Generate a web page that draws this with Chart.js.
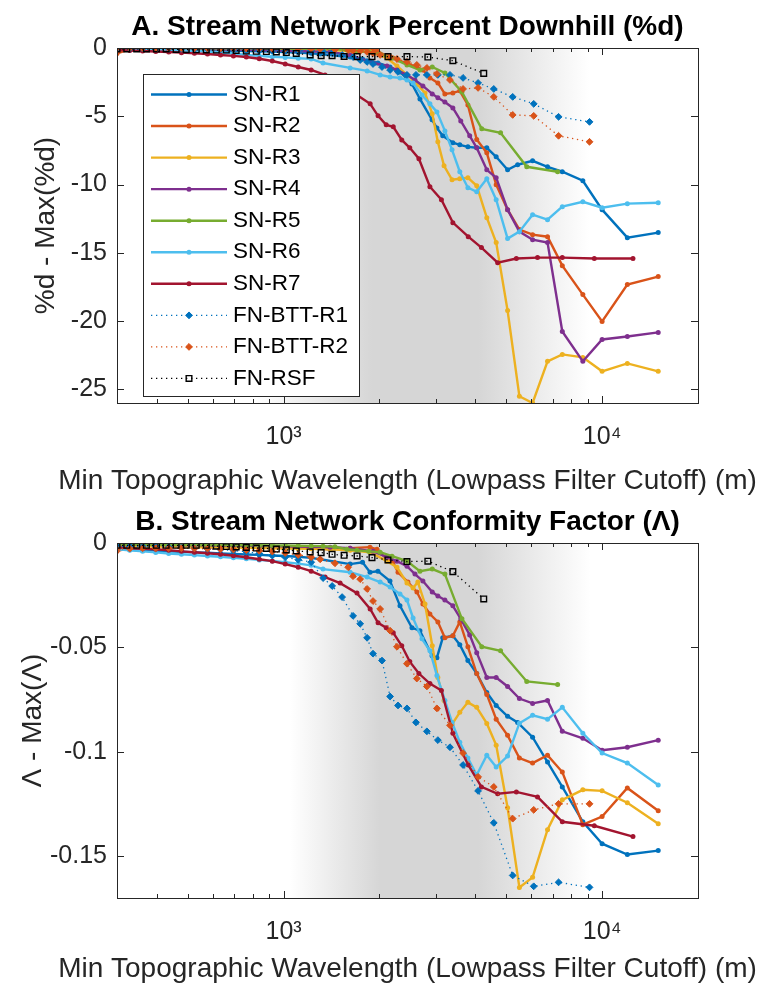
<!DOCTYPE html>
<html lang="en">
<head>
<meta charset="UTF-8">
<title>Stream Network Percent Downhill / Conformity Factor</title>
<script src="https://cdn.jsdelivr.net/npm/chart.js"></script>
<style>
  body { margin: 0; background: #fff; overflow: hidden; }
  canvas { position: absolute; left: 0; }
  #chartA { top: 0; }
  #chartB { top: 490px; }
</style>
</head>
<body>
<canvas id="chartA" width="761" height="500"></canvas>
<canvas id="chartB" width="761" height="495"></canvas>
<script>
// low-end wavelengths shared by the SN runs and the BTT runs (m)
const wlLow = [300, 329, 361, 397, 436, 478, 525, 577, 634, 696, 764, 839, 922, 1012, 1112, 1221];

// SN-R1
const r1Wl = [1303, 1618, 1770, 1868, 1978, 2158, 2320, 2530, 2680, 2925, 3030, 3160, 3400, 3575, 3790, 4040, 4345, 4650, 5050, 5430, 6050, 6740, 7500, 8700, 10000, 12000, 15000];
const r1A = [-0.15, -0.15, -0.15, -0.15, -0.15, -0.16, -0.17, -0.18, -0.19, -0.2, -0.22, -0.24, -0.26, -0.29, -0.33, -0.38,
  -0.44, -0.66, -0.8, -0.95, -1.1, -1.39, -1.75, -2.63, -3.73, -5.26, -5.85, -6.43, -6.94, -7.09, -7.24, -7.31, -7.31, -7.97, -8.92, -8.55, -8.26, -8.7, -9.06, -9.72, -11.84, -13.89, -13.52];
const r1B = [-0.003, -0.0032, -0.0035, -0.0037, -0.004, -0.0042, -0.0045, -0.0047, -0.005, -0.0052, -0.0055, -0.0057, -0.006, -0.0062, -0.0066, -0.0071,
  -0.0078, -0.0101, -0.0092, -0.014, -0.0135, -0.0182, -0.0301, -0.0406, -0.042, -0.054, -0.0549, -0.0454, -0.0444, -0.0487, -0.0563, -0.0625, -0.0716, -0.0778, -0.083, -0.0859, -0.093, -0.1049, -0.1168, -0.1335, -0.144, -0.1492, -0.1473];

// SN-R2
const r2Wl = [1400, 1618, 1868, 1965, 2110, 2206, 2287, 2457, 2622, 2738, 2880, 3051, 3209, 3400, 3575, 3790, 4040, 4345, 4650, 5050, 5500, 6050, 6740, 7500, 8700, 10000, 12000, 15000];
const r2A = [-0.4, -0.1, -0.03, -0.02, -0.02, -0.02, -0.02, -0.02, -0.02, -0.01, -0.01, -0.01, 0, 0, 0, -0.02,
  -0.04, -0.04, -0.07, -0.22, -0.58, -0.73, -0.88, -1.17, -1.39, -1.61, -2.19, -2.56, -3.36, -3.29, -3.14, -4.17, -6.7, -7.68, -10.01, -11.84, -13.3, -13.67, -13.82, -15.94, -18.06, -20.03, -17.32, -16.74];
const r2B = [-0.004, -0.002, -0.0012, -0.001, -0.001, -0.001, -0.001, -0.001, -0.0012, -0.0014, -0.0015, -0.0016, -0.0018, -0.002, -0.0022, -0.0025,
  -0.003, -0.0025, -0.002, -0.003, -0.0078, -0.0092, -0.014, -0.0187, -0.0235, -0.0292, -0.034, -0.0378, -0.0454, -0.0444, -0.0378, -0.0497, -0.0625, -0.0725, -0.0844, -0.0921, -0.103, -0.1054, -0.1016, -0.1097, -0.1349, -0.131, -0.1173, -0.1282];

// SN-R3
const r3Wl = [1400, 1618, 1868, 2112, 2270, 2440, 2550, 2640, 2780, 2930, 3050, 3190, 3380, 3575, 3790, 4040, 4345, 4650, 5050, 5500, 6050, 6740, 7500, 8700, 10000, 12000, 15000];
const r3A = [-0.05, -0.05, -0.05, -0.05, -0.05, -0.05, -0.06, -0.06, -0.07, -0.07, -0.08, -0.09, -0.1, -0.11, -0.12, -0.13,
  -0.15, -0.22, -0.29, -0.73, -1.32, -1.97, -2.34, -2.7, -3.29, -4.82, -6.87, -8.63, -9.65, -9.58, -9.5, -10.09, -12.43, -14.25, -19.23, -25.51, -26.0, -22.95, -22.44, -22.66, -23.68, -23.1, -23.68];
const r3B = [-0.0015, -0.0015, -0.0016, -0.0017, -0.0018, -0.0019, -0.002, -0.002, -0.0021, -0.0022, -0.0023, -0.0024, -0.0025, -0.0026, -0.0027, -0.0028,
  -0.003, -0.0035, -0.0044, -0.0087, -0.0116, -0.0192, -0.0216, -0.0187, -0.0292, -0.0492, -0.0644, -0.0754, -0.0868, -0.0811, -0.0763, -0.0787, -0.0864, -0.0968, -0.1268, -0.165, -0.1601, -0.1373, -0.123, -0.1182, -0.1187, -0.1244, -0.1344];

// SN-R4
const r4Wl = [1400, 1618, 1910, 2112, 2270, 2440, 2585, 2738, 2930, 3051, 3209, 3400, 3600, 3840, 4040, 4345, 4650, 5050, 5500, 6050, 6740, 7500, 8700, 10000, 12000, 15000];
const r4A = [-0.05, -0.05, -0.05, -0.06, -0.07, -0.08, -0.08, -0.1, -0.1, -0.12, -0.13, -0.15, -0.17, -0.2, -0.22, -0.25,
  -0.29, -0.51, -1.1, -1.32, -1.61, -1.97, -2.34, -2.78, -3.36, -3.65, -3.95, -4.39, -5.34, -6.43, -7.31, -8.92, -9.5, -11.84, -13.45, -14.04, -14.25, -20.76, -22.95, -21.35, -21.13, -20.83];
const r4B = [-0.0008, -0.0008, -0.0009, -0.0009, -0.001, -0.001, -0.0011, -0.0011, -0.0012, -0.0012, -0.0013, -0.0014, -0.0015, -0.0016, -0.0017, -0.0018,
  -0.002, -0.0025, -0.004, -0.0068, -0.0087, -0.0111, -0.0149, -0.0182, -0.0235, -0.0254, -0.0273, -0.0301, -0.0363, -0.044, -0.0525, -0.0644, -0.0644, -0.0687, -0.0745, -0.0768, -0.0754, -0.0902, -0.0935, -0.0992, -0.0978, -0.0944];

// SN-R5
const r5Wl = [1330, 1450, 1580, 1700, 1850, 2010, 2190, 2440, 2680, 2930, 3210, 3630, 4190, 4800, 5800, 7250];
const r5A = [-0.02, -0.02, -0.02, -0.02, -0.02, -0.02, -0.02, -0.02, -0.03, -0.03, -0.03, -0.03, -0.04, -0.04, -0.04, -0.05,
  -0.06, -0.08, -0.15, -0.22, -0.3, -0.44, -0.73, -1.24, -1.61, -1.39, -1.83, -3.22, -5.92, -6.21, -8.7, -9.06];
const r5B = [-0.0008, -0.0008, -0.0008, -0.0009, -0.0009, -0.0009, -0.001, -0.001, -0.001, -0.001, -0.0011, -0.0011, -0.0012, -0.0012, -0.0013, -0.0014,
  -0.0015, -0.0018, -0.003, -0.0035, -0.004, -0.0044, -0.0063, -0.0087, -0.0135, -0.0125, -0.0149, -0.0363, -0.0497, -0.0516, -0.0663, -0.0678];

// SN-R6
const r6Wl = [1330, 1618, 1830, 2010, 2160, 2320, 2440, 2550, 2720, 2880, 3030, 3210, 3380, 3575, 3790, 4040, 4345, 4650, 5050, 5500, 6050, 6740, 7500, 8700, 10000, 12000, 15000];
const r6A = [-0.07, -0.1, -0.12, -0.15, -0.17, -0.19, -0.22, -0.26, -0.33, -0.4, -0.51, -0.58, -0.64, -0.69, -0.75, -0.8,
  -1.1, -1.46, -1.68, -1.97, -2.12, -2.19, -2.34, -2.56, -3.44, -4.09, -4.68, -6.07, -7.46, -9.06, -10.23, -10.53, -9.58, -11.11, -13.96, -13.45, -12.21, -12.57, -11.62, -11.26, -11.7, -11.4, -11.33];
const r6B = [-0.003, -0.0035, -0.004, -0.0045, -0.005, -0.0054, -0.0058, -0.0062, -0.0066, -0.0071, -0.0076, -0.0081, -0.0086, -0.0092, -0.0099, -0.0107,
  -0.0125, -0.014, -0.0163, -0.0187, -0.0211, -0.0244, -0.0273, -0.0359, -0.0459, -0.0516, -0.0635, -0.0754, -0.0859, -0.0954, -0.103, -0.1111, -0.1016, -0.1073, -0.102, -0.0863, -0.0825, -0.0844, -0.0787, -0.0911, -0.1006, -0.1054, -0.1159];

// SN-R7
const r7Wl = [1350, 1505, 1700, 1870, 1980, 2100, 2210, 2350, 2490, 2660, 2880, 3130, 3400, 3800, 4180, 4700, 5380, 6270, 7500, 9450, 12500];
const r7A = [-0.15, -0.18, -0.22, -0.26, -0.29, -0.34, -0.39, -0.44, -0.51, -0.58, -0.66, -0.79, -0.95, -1.17, -1.39, -1.61,
  -1.97, -2.49, -3.44, -4.09, -4.97, -5.63, -5.77, -6.73, -7.31, -8.11, -10.16, -11.11, -12.79, -13.82, -14.62, -15.72, -15.42, -15.35, -15.35, -15.42, -15.42];
const r7B = [-0.002, -0.0025, -0.0028, -0.003, -0.0035, -0.004, -0.0044, -0.0049, -0.0054, -0.0061, -0.0068, -0.0078, -0.0087, -0.0101, -0.0116, -0.0135,
  -0.0163, -0.0192, -0.024, -0.0316, -0.0382, -0.0406, -0.043, -0.0492, -0.0568, -0.0625, -0.0673, -0.0706, -0.0911, -0.1063, -0.1168, -0.1201, -0.1192, -0.1216, -0.1335, -0.1354, -0.1406];

// FN-BTT-R1
const bt1Wl = [1331, 1421, 1527, 1653, 1740, 1829, 1909, 2037, 2160, 2287, 2440, 2604, 2818, 3051, 3330, 3660, 4080, 4570, 5240, 6100, 7300, 9130];
const bt1A = [-0.04, -0.04, -0.04, -0.05, -0.05, -0.06, -0.07, -0.07, -0.08, -0.1, -0.12, -0.14, -0.16, -0.18, -0.2, -0.22,
  -0.29, -0.37, -0.51, -0.66, -0.88, -1.02, -1.17, -1.39, -1.61, -1.75, -1.97, -1.97, -1.97, -1.97, -1.97, -2.19, -2.56, -3.0, -3.58, -4.09, -5.04, -5.41];
const bt1B = [-0.0016, -0.0016, -0.0017, -0.0018, -0.002, -0.0022, -0.0025, -0.0028, -0.0031, -0.0036, -0.0042, -0.005, -0.006, -0.0068, -0.008, -0.0092,
  -0.0168, -0.0206, -0.0259, -0.0349, -0.0387, -0.0454, -0.053, -0.0563, -0.0735, -0.0778, -0.0792, -0.0859, -0.0902, -0.0944, -0.0978, -0.1063, -0.1187, -0.134, -0.1592, -0.1644, -0.1625, -0.1649];

// FN-BTT-R2
const bt2Wl = [1303, 1450, 1595, 1652, 1740, 1829, 1909, 2010, 2160, 2270, 2440, 2620, 2818, 3030, 3330, 3660, 4080, 4570, 5240, 6100, 7300, 9130];
const bt2A = [0, 0, 0, 0, 0, -0.01, -0.02, -0.03, -0.04, -0.04, -0.04, -0.04, -0.05, -0.05, -0.05, -0.06,
  -0.07, -0.11, -0.15, -0.18, -0.22, -0.29, -0.37, -0.51, -0.66, -0.8, -1.02, -1.24, -1.46, -1.9, -2.34, -3.0, -2.92, -3.58, -4.9, -4.97, -6.43, -6.87];
const bt2B = [-0.003, -0.0027, -0.0025, -0.0025, -0.0025, -0.0025, -0.0026, -0.0027, -0.0029, -0.0031, -0.0034, -0.0037, -0.0041, -0.0048, -0.0057, -0.0068,
  -0.0078, -0.0097, -0.0116, -0.0159, -0.0173, -0.022, -0.0278, -0.0316, -0.042, -0.0497, -0.0578, -0.0649, -0.0687, -0.0792, -0.0873, -0.1006, -0.112, -0.1168, -0.132, -0.1278, -0.1249, -0.1249];

// FN-RSF
const rsfWl = [300, 322, 346, 371, 399, 428, 460, 495, 532, 572, 615, 661, 710, 764, 821, 883, 949, 1020, 1096, 1212, 1312, 1420, 1549, 1701, 1895, 2127, 2440, 2838, 3400, 4250];
const rsfA = [-0.07, -0.07, -0.07, -0.07, -0.07, -0.07, -0.1, -0.12, -0.13, -0.14, -0.15, -0.15, -0.18, -0.22, -0.24, -0.26, -0.29, -0.33, -0.4, -0.51, -0.56, -0.56, -0.62, -0.63, -0.63, -0.63, -0.63, -0.66, -0.93, -1.86];
const rsfB = [-0.0011, -0.0011, -0.0011, -0.0011, -0.0011, -0.0011, -0.0011, -0.0011, -0.0011, -0.0011, -0.0015, -0.0017, -0.0019, -0.0021, -0.0024, -0.0026, -0.0029, -0.0033, -0.0038, -0.0043, -0.0046, -0.0054, -0.0059, -0.0062, -0.007, -0.0081, -0.0089, -0.0087, -0.0137, -0.0268];

// axis ticks
const xTicks = [400, 500, 600, 700, 800, 900, 1000, 2000, 3000, 4000, 5000, 6000, 7000, 8000, 9000, 10000];
const xTickLabels = { 1000: '10\u00B3', 10000: '10\u2074' };
const yTicksA = [-25, -20, -15, -10, -5, 0];
const yTicksB = [-0.15, -0.1, -0.05, 0];

const FONT = '"Liberation Sans", Arial, Helvetica, sans-serif';
Chart.defaults.font.family = FONT;
Chart.defaults.color = '#262626';

const series = [
  { label: 'SN-R1', color: '#0072BD', wl: wlLow.concat(r1Wl), a: r1A, b: r1B, kind: 'sn' },
  { label: 'SN-R2', color: '#D95319', wl: wlLow.concat(r2Wl), a: r2A, b: r2B, kind: 'sn' },
  { label: 'SN-R3', color: '#EDB120', wl: wlLow.concat(r3Wl), a: r3A, b: r3B, kind: 'sn' },
  { label: 'SN-R4', color: '#7E2F8E', wl: wlLow.concat(r4Wl), a: r4A, b: r4B, kind: 'sn' },
  { label: 'SN-R5', color: '#77AC30', wl: wlLow.concat(r5Wl), a: r5A, b: r5B, kind: 'sn' },
  { label: 'SN-R6', color: '#4DBEEE', wl: wlLow.concat(r6Wl), a: r6A, b: r6B, kind: 'sn' },
  { label: 'SN-R7', color: '#A2142F', wl: wlLow.concat(r7Wl), a: r7A, b: r7B, kind: 'sn' },
  { label: 'FN-BTT-R1', color: '#0072BD', wl: wlLow.concat(bt1Wl), a: bt1A, b: bt1B, kind: 'btt' },
  { label: 'FN-BTT-R2', color: '#D95319', wl: wlLow.concat(bt2Wl), a: bt2A, b: bt2B, kind: 'btt' },
  { label: 'FN-RSF', color: '#000000', wl: rsfWl, a: rsfA, b: rsfB, kind: 'rsf' }
];

function makeDataset(s, ys, i) {
  const ds = {
    label: s.label,
    data: s.wl.map((x, k) => ({ x: x, y: ys[k] })),
    borderColor: s.color,
    pointBorderColor: s.color,
    order: series.length - i,
    tension: 0
  };
  if (s.kind === 'sn') {
    Object.assign(ds, { borderWidth: 2.4, pointStyle: 'circle', pointRadius: 2.5, pointBorderWidth: 0, pointBackgroundColor: s.color });
  } else if (s.kind === 'btt') {
    Object.assign(ds, { borderWidth: 1.3, borderDash: [1.3, 3.7], pointStyle: 'rectRot', pointRadius: 3.4, pointBorderWidth: 1, pointBackgroundColor: s.color });
  } else {
    Object.assign(ds, { borderWidth: 1.3, borderDash: [1.3, 3.7], pointStyle: 'rect', pointRadius: 4, pointBorderWidth: 1.4, pointBackgroundColor: 'rgba(0,0,0,0)' });
  }
  return ds;
}

// gray band behind the curves
const shade = {
  id: 'shade',
  beforeDatasetsDraw(chart, args, opts) {
    const { ctx, chartArea: a, scales: { x } } = chart;
    const g = ctx.createLinearGradient(a.left, 0, a.right, 0);
    opts.stops.forEach(([v, k]) => {
      const f = Math.min(1, Math.max(0, (x.getPixelForValue(v) - a.left) / a.width));
      const c = Math.round(255 - k * (255 - 214));
      g.addColorStop(f, `rgb(${c},${c},${c})`);
    });
    ctx.save();
    ctx.fillStyle = g;
    ctx.fillRect(a.left, a.top, a.width, a.height);
    ctx.restore();
  }
};

// box and inward ticks, MATLAB style, plus the x label (drawn here so it is not squeezed to the axis width)
const frame = {
  id: 'frame',
  afterDatasetsDraw(chart, args, o) {
    const { ctx, chartArea: a, scales: { x, y } } = chart;
    ctx.save();
    ctx.strokeStyle = '#262626';
    ctx.lineWidth = 1;
    ctx.beginPath();
    x.ticks.forEach(t => {
      if (t.value <= x.min || t.value >= x.max) return;
      const px = Math.round(x.getPixelForValue(t.value)) + 0.5;
      const lg = Math.log10(t.value);
      const len = Math.abs(lg - Math.round(lg)) < 1e-9 ? 7 : 4;
      ctx.moveTo(px, a.bottom); ctx.lineTo(px, a.bottom - len);
      ctx.moveTo(px, a.top); ctx.lineTo(px, a.top + len);
    });
    y.ticks.forEach(t => {
      if (t.value <= y.min || t.value >= y.max) return;
      const py = Math.round(y.getPixelForValue(t.value)) + 0.5;
      ctx.moveTo(a.left, py); ctx.lineTo(a.left + 7, py);
      ctx.moveTo(a.right, py); ctx.lineTo(a.right - 7, py);
    });
    ctx.stroke();
    ctx.strokeRect(Math.round(a.left) + 0.5, Math.round(a.top) + 0.5, Math.round(a.width), Math.round(a.height));

    ctx.fillStyle = '#262626';
    ctx.font = `28px ${FONT}`;
    ctx.textAlign = 'center';
    ctx.textBaseline = 'middle';
    ctx.fillText(o.xTitle, (a.left + a.right) / 2, o.xTitleY);
    ctx.restore();
  }
};

function drawMarker(ctx, ds, x, y) {
  const r = ds.pointRadius;
  ctx.beginPath();
  if (ds.pointStyle === 'circle') {
    ctx.arc(x, y, r, 0, Math.PI * 2);
  } else if (ds.pointStyle === 'rectRot') {
    ctx.moveTo(x - r, y); ctx.lineTo(x, y - r); ctx.lineTo(x + r, y); ctx.lineTo(x, y + r); ctx.closePath();
  } else {
    const h = r * Math.SQRT1_2;
    ctx.rect(x - h, y - h, 2 * h, 2 * h);
  }
  ctx.fillStyle = ds.pointBackgroundColor;
  ctx.fill();
  if (ds.pointBorderWidth > 0) {
    ctx.lineWidth = ds.pointBorderWidth;
    ctx.strokeStyle = ds.pointBorderColor;
    ctx.stroke();
  }
}

const legendBox = {
  id: 'legendBox',
  afterDraw(chart, args, o) {
    if (!o.show) return;
    const ctx = chart.ctx;
    ctx.save();
    ctx.fillStyle = '#fff';
    ctx.fillRect(o.left, o.top, o.width, o.height);
    ctx.strokeStyle = '#262626';
    ctx.lineWidth = 1;
    ctx.strokeRect(o.left + 0.5, o.top + 0.5, o.width, o.height);
    chart.data.datasets.forEach((ds, i) => {
      const cy = o.firstRow + i * o.rowGap;
      ctx.strokeStyle = ds.borderColor;
      ctx.lineWidth = ds.borderWidth;
      ctx.setLineDash(ds.borderDash || []);
      ctx.beginPath();
      ctx.moveTo(o.lineX0, cy);
      ctx.lineTo(o.lineX1, cy);
      ctx.stroke();
      ctx.setLineDash([]);
      drawMarker(ctx, ds, (o.lineX0 + o.lineX1) / 2, cy);
      ctx.fillStyle = '#000';
      ctx.font = `${o.fontSize}px ${FONT}`;
      ctx.textBaseline = 'middle';
      ctx.textAlign = 'left';
      ctx.fillText(ds.label, o.textX, cy);
    });
    ctx.restore();
  }
};

const xTitleText = 'Min Topographic Wavelength (Lowpass Filter Cutoff) (m)';

const panels = [
  {
    id: 'chartA', key: 'a', height: 500, areaTop: 48, areaBottom: 403, titleTop: 10, xTitleY: 481,
    title: 'A. Stream Network Percent Downhill (%d)', yTitle: '%d - Max(%d)', yTitlePad: 29,
    yMin: -26, yMax: 0, yTicks: yTicksA,
    shadeStops: [[820, 0], [1900, 1], [4100, 1], [9100, 0]], legend: true
  },
  {
    id: 'chartB', key: 'b', height: 495, areaTop: 53, areaBottom: 408, titleTop: 15, xTitleY: 479,
    title: 'B. Stream Network Conformity Factor (\u039B)', yTitle: '\u039B - Max(\u039B)', yTitlePad: 16,
    yMin: -0.17, yMax: 0, yTicks: yTicksB,
    shadeStops: [[1050, 0], [2000, 1], [4100, 1], [9200, 0]], legend: false
  }
];

panels.forEach(p => {
  const titleLine = 28 * 1.2;
  new Chart(document.getElementById(p.id), {
    type: 'line',
    data: { datasets: series.map((s, i) => makeDataset(s, s[p.key], i)) },
    options: {
      responsive: false,
      animation: false,
      events: [],
      layout: { padding: { left: 0, right: 63, top: 0, bottom: 0 } },
      plugins: {
        legend: { display: false },
        tooltip: { enabled: false },
        title: {
          display: true,
          fullSize: false,
          text: p.title,
          color: '#000',
          font: { size: 28, weight: 'bold' },
          padding: { top: p.titleTop, bottom: p.areaTop - p.titleTop - titleLine }
        },
        shade: { stops: p.shadeStops },
        frame: { xTitle: xTitleText, xTitleY: p.xTitleY },
        legendBox: {
          show: p.legend, left: 143, top: 74, width: 216, height: 322,
          firstRow: 94.5, rowGap: 31.55, lineX0: 151, lineX1: 227, textX: 233, fontSize: 22.5
        }
      },
      scales: {
        x: {
          type: 'logarithmic',
          min: 300,
          max: 20000,
          grid: { display: false, drawTicks: false },
          border: { display: false },
          afterBuildTicks: sc => { sc.ticks = xTicks.map(v => ({ value: v })); },
          afterFit: sc => { sc.height = p.height - p.areaBottom; },
          ticks: {
            autoSkip: false, maxRotation: 0, padding: 19,
            font: { size: 25 }, color: '#262626',
            callback: v => xTickLabels[v] || ''
          },
          title: { display: false }
        },
        y: {
          min: p.yMin,
          max: p.yMax,
          grid: { display: false, drawTicks: false },
          border: { display: false },
          afterBuildTicks: sc => { sc.ticks = p.yTicks.map(v => ({ value: v })); },
          afterFit: sc => { sc.width = 117; },
          ticks: {
            padding: 10, font: { size: 25 }, color: '#262626',
            callback: v => String(v)
          },
          title: {
            display: true,
            text: p.yTitle,
            color: '#262626',
            font: { size: 28 },
            padding: { top: p.yTitlePad, bottom: 0 }
          }
        }
      }
    },
    plugins: [shade, frame, legendBox]
  });
});
</script>
</body>
</html>
